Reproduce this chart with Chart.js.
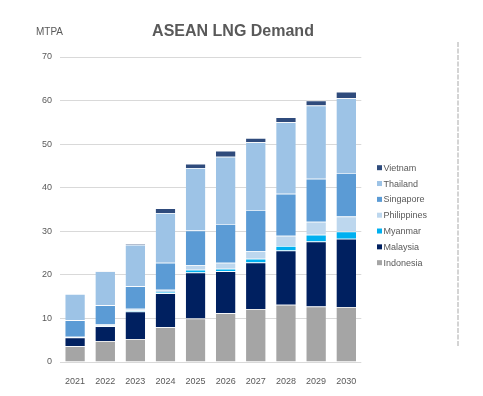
<!DOCTYPE html>
<html>
<head>
<meta charset="utf-8">
<script src="https://cdn.jsdelivr.net/npm/chart.js@4"></script>
<style>
  html, body { margin: 0; padding: 0; background: #ffffff; }
  #wrap { width: 483px; height: 396px; }
</style>
</head>
<body>
<div id="wrap"><canvas id="chart-lng" width="483" height="396"></canvas></div>
<script>
// ASEAN LNG demand, MTPA
const years = ['2021', '2022', '2023', '2024', '2025', '2026', '2027', '2028', '2029', '2030'];
const indonesia   = [3.6, 4.8, 5.3, 8.0, 10.0, 11.2, 12.15, 13.15, 12.75, 12.6];
const malaysia    = [2.0, 3.4, 6.3, 7.8, 10.55, 9.6, 10.7, 12.45, 14.9, 15.7];
const myanmar     = [0.1, 0.1, 0.2, 0.25, 0.65, 0.6, 0.85, 1.0, 1.55, 1.65];
const philippines = [0.1, 0.3, 0.4, 0.55, 1.05, 1.4, 1.8, 2.4, 3.0, 3.45];
const singapore   = [3.8, 4.4, 5.2, 6.2, 7.95, 8.9, 9.4, 9.6, 9.85, 10.0];
const thailand    = [6.0, 7.8, 9.5, 11.4, 14.3, 15.4, 15.55, 16.45, 16.8, 17.15];
const vietnam     = [0.0, 0.2, 0.2, 1.1, 1.0, 1.4, 0.95, 1.15, 1.15, 1.45];
const yTicks = [0, 10, 20, 30, 40, 50, 60, 70];

const TEXT = '#595959';
const FONT = '"Liberation Sans", Arial, sans-serif';

const series = [
    { label: 'Indonesia',   data: indonesia,   color: '#a5a5a5' },
    { label: 'Malaysia',    data: malaysia,    color: '#002060' },
    { label: 'Myanmar',     data: myanmar,     color: '#00b0f0' },
    { label: 'Philippines', data: philippines, color: '#bdd7ee' },
    { label: 'Singapore',   data: singapore,   color: '#5b9bd5' },
    { label: 'Thailand',    data: thailand,    color: '#9dc3e6' },
    { label: 'Vietnam',     data: vietnam,     color: '#2f4b7c' }
];

// title, unit, side legend and dashed divider
const decor = {
    id: 'decor',
    afterDraw(chart) {
        const ctx = chart.ctx;
        ctx.save();
        ctx.fillStyle = TEXT;
        ctx.textBaseline = 'alphabetic';
        ctx.textAlign = 'center';
        ctx.font = 'bold 16px ' + FONT;
        ctx.fillText('ASEAN LNG Demand', 233, 36);
        ctx.textAlign = 'left';
        ctx.font = '10px ' + FONT;
        ctx.fillText('MTPA', 36, 35);

        // legend, top item = last dataset
        ctx.font = '9px ' + FONT;
        ctx.textBaseline = 'middle';
        const ds = chart.data.datasets;
        for (let i = ds.length - 1, row = 0; i >= 0; i--, row++) {
            const y = 167.7 + row * 15.83;
            ctx.fillStyle = ds[i].backgroundColor;
            ctx.fillRect(377, y - 2.5, 5, 5);
            ctx.fillStyle = TEXT;
            ctx.fillText(ds[i].label, 383.5, y + 0.5);
        }

        ctx.strokeStyle = '#d4d4d4';
        ctx.lineWidth = 2;
        ctx.setLineDash([5, 1.5]);
        ctx.beginPath();
        ctx.moveTo(458, 42);
        ctx.lineTo(458, 347);
        ctx.stroke();
        ctx.restore();
    }
};

new Chart(document.getElementById('chart-lng'), {
    type: 'bar',
    data: {
        labels: years,
        datasets: series.map(s => ({
            label: s.label, data: s.data, backgroundColor: s.color,
            borderColor: 'rgba(255,255,255,0.75)',
            borderWidth: { top: 0.75, left: 0, right: 0, bottom: 0 },
            borderSkipped: 'start',
            categoryPercentage: 1, barPercentage: 0.65
        }))
    },
    options: {
        responsive: false, animation: false,
        layout: { padding: { left: 10, right: 121.7, top: 57, bottom: 10 } },
        scales: {
            x: {
                stacked: true,
                grid: { display: false }, border: { display: false },
                ticks: { color: TEXT, font: { family: FONT, size: 9 }, padding: 6, maxRotation: 0 },
                afterFit: (s) => { s.height = 24; }
            },
            y: {
                stacked: true, min: 0, max: 70,
                afterBuildTicks: (s) => { s.ticks = yTicks.map(v => ({ value: v })); },
                grid: { color: '#d9d9d9', lineWidth: 1, drawTicks: false },
                border: { display: false },
                ticks: { color: TEXT, font: { family: FONT, size: 9 }, padding: 8 },
                afterFit: (s) => { s.width = 50; }
            }
        },
        plugins: { legend: { display: false }, tooltip: { enabled: false } }
    },
    plugins: [decor]
});
</script>
</body>
</html>
